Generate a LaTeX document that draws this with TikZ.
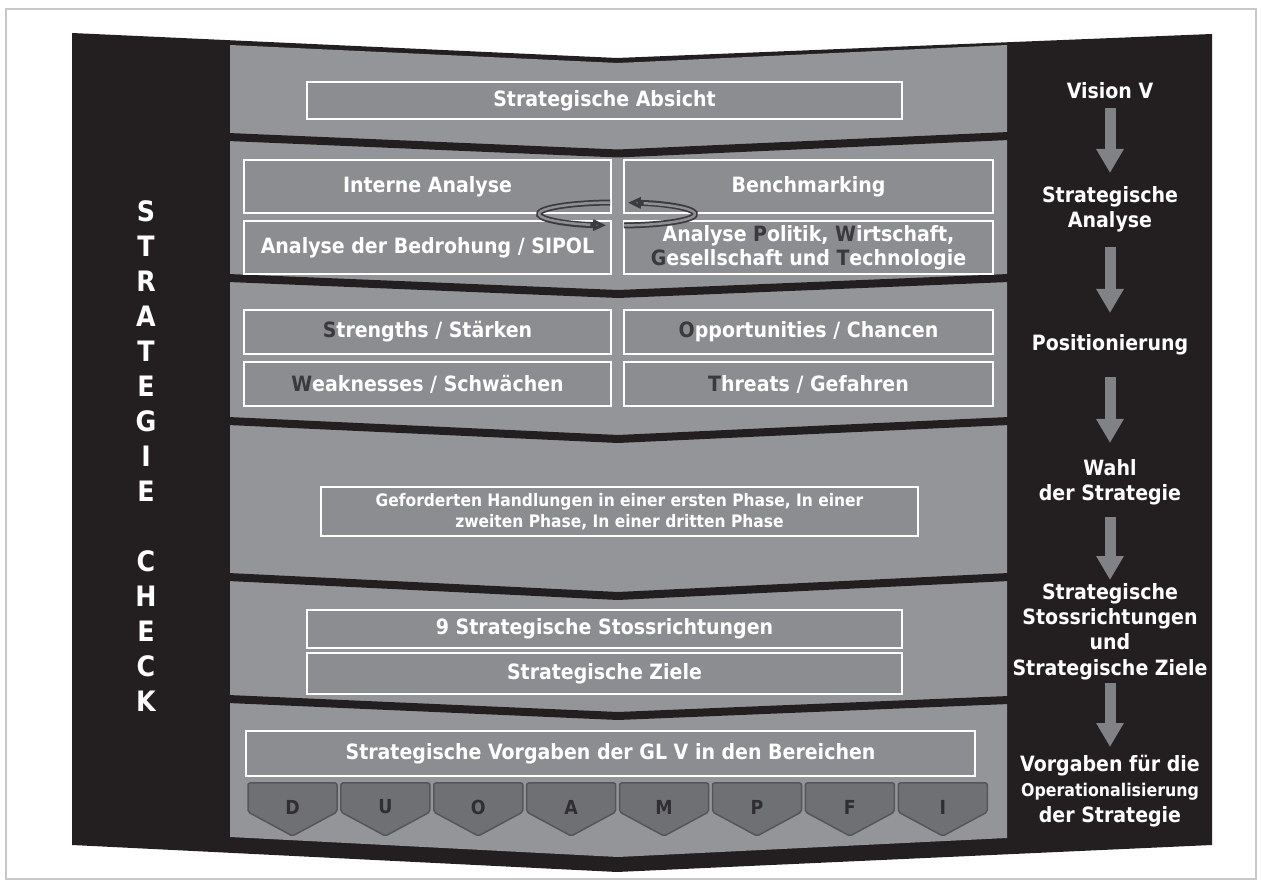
\documentclass[tikz,border=0pt]{standalone}
\usepackage{fontspec}
\setmainfont{DejaVu Sans}[FakeStretch=0.9]
\usetikzlibrary{arrows.meta,calc}
\definecolor{blk}{HTML}{231F20}
\definecolor{pgrey}{HTML}{939598}
\definecolor{bgrey}{HTML}{8C8D90}
\definecolor{hl}{HTML}{3A3A3C}
\definecolor{arrc}{HTML}{808285}
\definecolor{pentfill}{HTML}{6F7073}
\definecolor{pentdraw}{HTML}{55565A}
\definecolor{penttext}{HTML}{2F2F31}
\definecolor{framec}{HTML}{C8C8C8}
\definecolor{cycdark}{HTML}{3C3C3E}
\definecolor{cyclight}{HTML}{8E8F92}
\newcommand{\hlc}[1]{{\color{hl}#1}}
\begin{document}
\begin{tikzpicture}[x=0.02cm,y=-0.02cm,
  sz/.style 2 args={minimum width=#1*0.02cm, minimum height=#2*0.02cm},
  box/.style={draw=white, line width=0.04cm, fill=bgrey, text=white, align=center, inner sep=0pt,
    font=\fontsize{12}{13.5}\selectfont\bfseries},
  smallbox/.style={box, font=\fontsize{9.8}{12}\selectfont\bfseries},
  sep/.style={draw=blk, line width=0.16cm, line join=round},
  rtext/.style={text=white, align=center, inner sep=0pt, font=\fontsize{12}{14.4}\selectfont\bfseries},
  bigarrow/.style={draw=arrc, line width=0.22cm, -{Triangle[width=0.52cm,length=0.48cm]}},
  pent/.style={fill=pentfill, draw=pentdraw, line width=0.03cm, rounded corners=0.04cm},
  penttxt/.style={text=penttext, inner sep=0pt, font=\fontsize{11}{13}\selectfont\bfseries},
  cycout/.style={draw=cycdark, line width=0.12cm},
  cycin/.style={draw=cyclight, line width=0.05cm}
]
\useasboundingbox (0,0) rectangle (1262,884);
\fill[white] (0,0) rectangle (1262,884);
\draw[framec, line width=0.025cm] (6,9) rectangle (1256,879);

% black frame shape and grey panel
\fill[blk] (72,33) -- (617,58) -- (1212,34) -- (1212,845) -- (617,872) -- (72,845) -- cycle;
\fill[pgrey] (230,45) -- (618,63) -- (1007,45) -- (1007,838) -- (618,857) -- (230,837) -- cycle;

% separators
\draw[sep] (228,137) -- (618,153.5) -- (1009,136);
\draw[sep] (228,278) -- (618,294) -- (1009,278);
\draw[sep] (228,421) -- (618,439) -- (1009,421);
\draw[sep] (228,577) -- (618,596) -- (1009,577);
\draw[sep] (228,699) -- (618,716) -- (1009,700);

% boxes
\node[box, sz={595}{37}] (absicht) at (604.5,100.5) {Strategische Absicht};
\node[box, sz={367}{53}] (intern) at (427.5,186.5) {Interne Analyse};
\node[box, sz={367}{53}] (bedroh) at (427.5,247.5) {Analyse der Bedrohung / SIPOL};
\node[box, sz={369}{53}] (bench) at (808.5,186.5) {Benchmarking};
\node[box, sz={369}{53}] (pwgt) at (808.5,247.5)
  {Analyse \hlc{P}olitik, \hlc{W}irtschaft,\\\hlc{G}esellschaft und \hlc{T}echnologie};
\node[box, sz={367}{44}] (str) at (427.5,332) {\hlc{S}trengths / Stärken};
\node[box, sz={367}{44}] (weak) at (427.5,384.5) {\hlc{W}eaknesses / Schwächen};
\node[box, sz={369}{44}] (opp) at (808.5,332) {\hlc{O}pportunities / Chancen};
\node[box, sz={369}{44}] (thr) at (808.5,384.5) {\hlc{T}hreats / Gefahren};
\node[smallbox, sz={597}{49}] (handl) at (619.5,511.5)
  {Geforderten Handlungen in einer ersten Phase, In einer\\zweiten Phase, In einer dritten Phase};
\node[box, sz={595}{38}] (stoss) at (604.5,629) {9 Strategische Stossrichtungen};
\node[box, sz={595}{41}] (ziele) at (604.5,673.5) {Strategische Ziele};
\node[box, sz={729}{45}] (vorg) at (610.5,753.5) {Strategische Vorgaben der GL V in den Bereichen};

% pentagons
\foreach \L [count=\i from 0] in {D,U,O,A,M,P,F,I}{
  \pgfmathsetmacro{\xl}{248+\i*92.9}
  \draw[pent] (\xl,783) -- (\xl+89,783) -- (\xl+89,812) -- (\xl+44.5,836) -- (\xl,812) -- cycle;
  \node[penttxt] (p\L) at (\xl+44.5,807) {\L};
}

% cycle arrows between the analyses
\coordinate (cyc) at (617,214);
\draw[cycout, -{Triangle[length=0.26cm,width=0.22cm,fill=cyclight]}] ($(cyc)+(-6.8,-11.5)$) arc[start angle=-95, end angle=-262, x radius=78, y radius=11.5];
\draw[cycin] ($(cyc)+(-6.8,-11.5)$) arc[start angle=-95, end angle=-250, x radius=78, y radius=11.5];
\draw[cycout, -{Triangle[length=0.26cm,width=0.22cm,fill=cyclight]}] ($(cyc)+(6.8,11.5)$) arc[start angle=85, end angle=-82, x radius=78, y radius=11.5];
\draw[cycin] ($(cyc)+(6.8,11.5)$) arc[start angle=85, end angle=-70, x radius=78, y radius=11.5];

% left vertical text
\node[text=white, align=center, inner sep=0pt, font=\fontsize{16}{19.9}\selectfont\bfseries] (check) at (146,456)
  {S\\T\\R\\A\\T\\E\\G\\I\\E\\[19.9pt]C\\H\\E\\C\\K};

% right column
\node[rtext] (r1) at (1110,91) {Vision V};
\node[rtext] (r2) at (1110,209.5) {Strategische\\Analyse};
\node[rtext] (r3) at (1110,345) {Positionierung};
\node[rtext] (r4) at (1110,482.5) {Wahl\\der Strategie};
\node[rtext] (r5) at (1110,631.5) {Strategische\\Stossrichtungen\\und\\Strategische Ziele};
\node[rtext] (r6) at (1110,791) {Vorgaben für die\\{\fontsize{10}{14.4}\selectfont Operationalisierung}\\der Strategie};

\draw[bigarrow] ($(r1)+(0,17)$) -- ($(r2)+(0,-36.5)$);
\draw[bigarrow] ($(r2)+(0,37.5)$) -- ($(r3)+(0,-32)$);
\draw[bigarrow] ($(r3)+(0,32)$) -- ($(r4)+(0,-39.5)$);
\draw[bigarrow] ($(r4)+(0,34.5)$) -- ($(r5)+(0,-51.5)$);
\draw[bigarrow] ($(r5)+(0,51.5)$) -- ($(r6)+(0,-44)$);
\end{tikzpicture}
\end{document}
